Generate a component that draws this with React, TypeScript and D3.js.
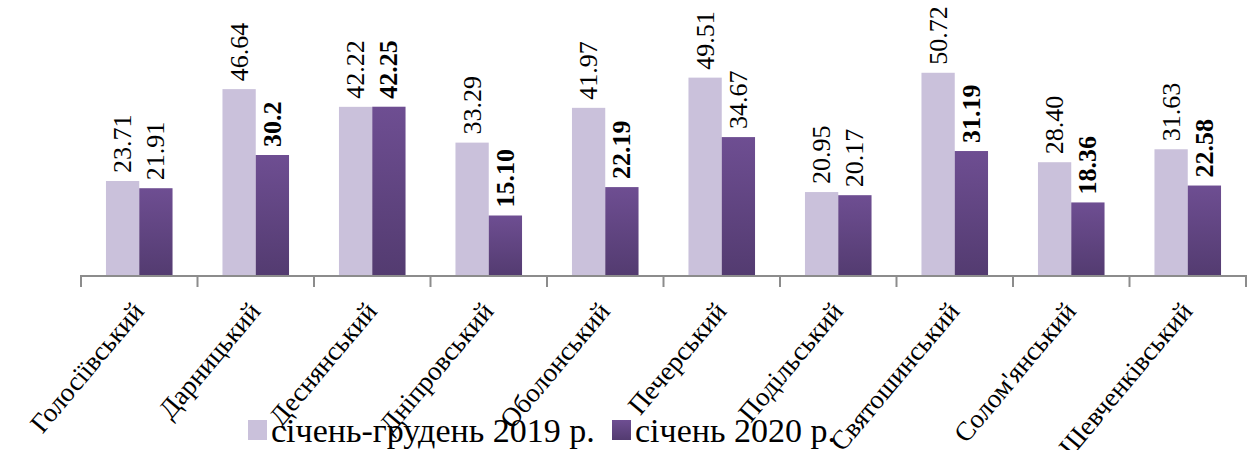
import React, { useEffect, useRef } from "react";
import * as d3 from "d3";

const districts = [
  "Голосіївський",
  "Дарницький",
  "Деснянський",
  "Дніпровський",
  "Оболонський",
  "Печерський",
  "Подільський",
  "Святошинський",
  "Солом'янський",
  "Шевченківський",
];
const series = ["січень-грудень 2019 р.", "січень 2020 р."];
const values2019 = [23.71, 46.64, 42.22, 33.29, 41.97, 49.51, 20.95, 50.72, 28.4, 31.63];
const values2020 = [21.91, 30.2, 42.25, 15.1, 22.19, 34.67, 20.17, 31.19, 18.36, 22.58];
const labels2019 = ["23.71", "46.64", "42.22", "33.29", "41.97", "49.51", "20.95", "50.72", "28.40", "31.63"];
const labels2020 = ["21.91", "30.2", "42.25", "15.10", "22.19", "34.67", "20.17", "31.19", "18.36", "22.58"];
const bold2020 = [false, true, true, true, true, false, false, true, true, true];

const W = 1251;
const H = 450;
const FONT = "'Liberation Serif', 'Times New Roman', serif";

function App() {
  const ref = useRef<SVGSVGElement>(null);

  useEffect(() => {
    document.body.style.margin = "0";
    const svg = d3.select(ref.current);
    svg.selectAll("*").remove();

    const defs = svg.append("defs");
    const grad = defs
      .append("linearGradient")
      .attr("id", "darkGrad")
      .attr("x1", 0)
      .attr("y1", 0)
      .attr("x2", 0)
      .attr("y2", 1);
    grad.append("stop").attr("offset", "0%").attr("stop-color", "#6e4e92");
    grad.append("stop").attr("offset", "100%").attr("stop-color", "#533b70");

    const x = d3.scaleBand().domain(districts).range([81, 1246]).padding(0);
    const xi = d3
      .scaleBand()
      .domain(series)
      .range([0, x.bandwidth()])
      .paddingInner(0)
      .paddingOuter(0.75);
    const y = d3.scaleLinear().domain([0, 60]).range([276, 35.6]);

    const data = districts.map((d, i) => ({
      d,
      vals: [
        { s: series[0], v: values2019[i], lab: labels2019[i], bold: false },
        { s: series[1], v: values2020[i], lab: labels2020[i], bold: bold2020[i] },
      ],
    }));

    const g = svg
      .append("g")
      .selectAll("g")
      .data(data)
      .enter()
      .append("g")
      .attr("transform", (d) => "translate(" + x(d.d) + ",0)");

    g.selectAll("rect")
      .data((d) => d.vals)
      .enter()
      .append("rect")
      .attr("x", (d) => xi(d.s)!)
      .attr("width", xi.bandwidth())
      .attr("y", (d) => y(d.v))
      .attr("height", (d) => y(0) - y(d.v))
      .attr("fill", (d) => (d.s === series[0] ? "#cac1db" : "url(#darkGrad)"));

    g.selectAll("text")
      .data((d) => d.vals)
      .enter()
      .append("text")
      .attr(
        "transform",
        (d) =>
          "translate(" + (xi(d.s)! + xi.bandwidth() / 2) + "," + (y(d.v) - 8) + ") rotate(-90)"
      )
      .attr("dy", "0.33em")
      .attr("font-family", FONT)
      .attr("font-size", 26)
      .attr("font-weight", (d) => (d.bold ? "bold" : "normal"))
      .attr("fill", "#000")
      .text((d) => d.lab);

    // axis
    const axis = svg.append("g").attr("stroke", "#8c8c8c").attr("stroke-width", 2);
    axis
      .append("line")
      .attr("x1", 80)
      .attr("x2", 1247)
      .attr("y1", 276)
      .attr("y2", 276);
    const edges = districts.map((d) => x(d)!).concat([x.range()[1]]);
    axis
      .selectAll("line.tick")
      .data(edges)
      .enter()
      .append("line")
      .attr("class", "tick")
      .attr("x1", (d) => d)
      .attr("x2", (d) => d)
      .attr("y1", 276)
      .attr("y2", 287);

    svg
      .append("g")
      .selectAll("text")
      .data(districts)
      .enter()
      .append("text")
      .attr(
        "transform",
        (d) => "translate(" + (x(d)! + x.bandwidth() / 2 + 6) + ",312) rotate(-50)"
      )
      .attr("text-anchor", "end")
      .attr("font-family", FONT)
      .attr("font-size", 27)
      .attr("fill", "#000")
      .text((d) => d);

    // legend
    const legendX = [248, 612];
    const leg = svg
      .append("g")
      .selectAll("g")
      .data(series)
      .enter()
      .append("g")
      .attr("transform", (d, i) => "translate(" + legendX[i] + ",420)");
    leg
      .append("rect")
      .attr("width", 19)
      .attr("height", 20)
      .attr("fill", (d, i) => (i === 0 ? "#cac1db" : "url(#darkGrad)"));
    leg
      .append("text")
      .attr("x", 23)
      .attr("y", 22)
      .attr("font-family", FONT)
      .attr("font-size", 34)
      .attr("fill", "#000")
      .text((d) => d);
  }, []);

  return (
    <svg
      ref={ref}
      width={W}
      height={H}
      style={{ position: "absolute", left: 0, top: 0, background: "#fff" }}
    />
  );
}

export default App;
